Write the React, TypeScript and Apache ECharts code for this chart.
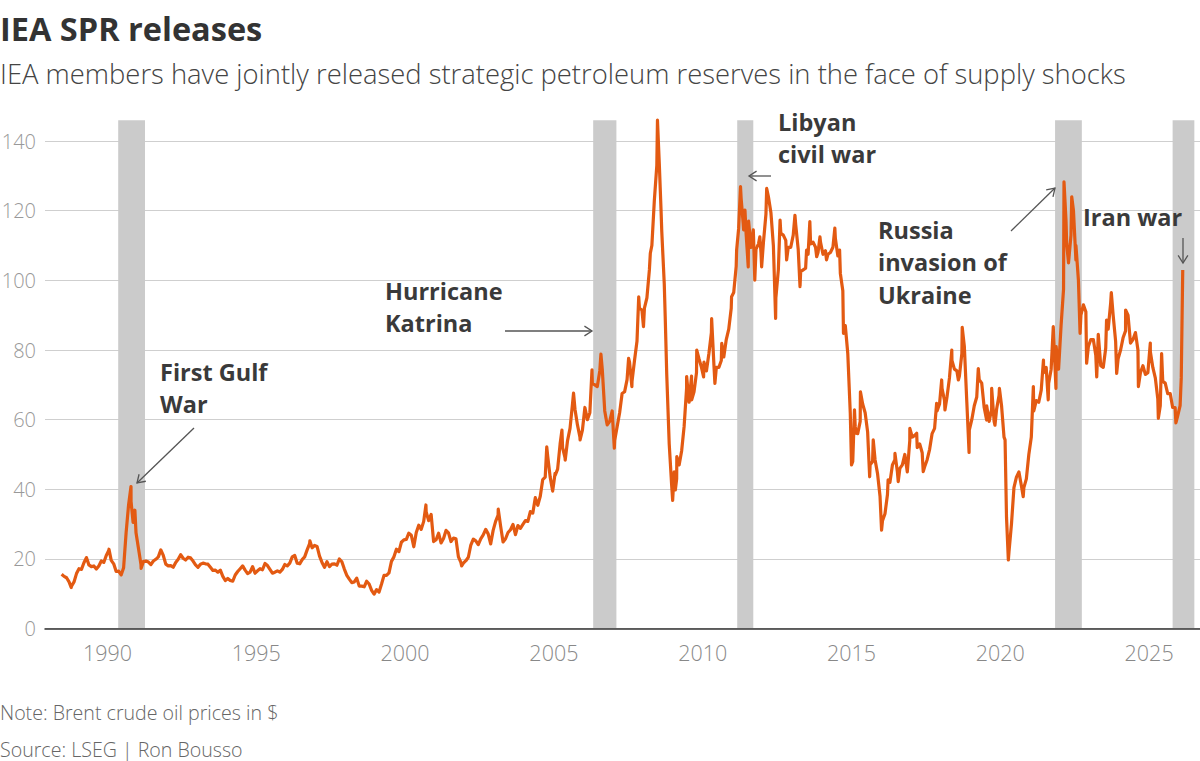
import React, { useEffect, useRef } from "react";
import * as echarts from "echarts";

// Monthly Brent values ($/bbl), first block starts June 1988
const p1988_1989 = [15.6, 15.0, 14.6, 13.4, 12.2, 13.4, 15.8,
  17.2, 17.0, 18.9, 20.4, 18.3, 17.8, 18.0, 17.1, 18.0, 19.4, 19.0, 21.0];
const p1990s = [
  22.4, 19.6, 18.6, 16.4, 16.5, 15.4, 17.5, 27.5, 35.5, 36.5, 32.5, 27.5,
  23.0, 18.4, 19.3, 19.4, 19.1, 18.4, 19.4, 19.9, 20.6, 22.6, 21.0, 18.5,
  18.0, 18.1, 17.6, 19.0, 19.9, 21.2, 20.2, 19.7, 20.5, 20.3, 19.4, 18.3,
  17.6, 18.5, 18.8, 18.6, 18.5, 17.6, 16.7, 16.8, 16.2, 16.8, 15.0, 13.8,
  14.4, 13.8, 13.6, 15.4, 16.4, 17.2, 18.0, 16.8, 15.8, 16.2, 17.8, 15.9,
  16.6, 17.2, 16.9, 18.7, 18.1, 17.0, 15.9, 16.2, 16.6, 16.2, 17.0, 18.4,
  18.0, 18.8, 20.6, 21.0, 18.8, 18.6, 19.8, 20.6, 22.6, 24.4, 23.2, 23.9,
  23.6, 20.8, 19.0, 17.6, 19.2, 17.8, 18.5, 18.6, 18.2, 20.0, 19.2, 17.1,
  15.3, 14.2, 13.2, 13.4, 14.5, 12.2, 12.2, 12.0, 13.6, 12.8, 11.0, 9.9,
  11.2, 10.5, 12.8, 15.3, 15.3, 16.0, 19.3, 20.6, 22.8, 22.1, 24.8, 25.5];
const p2000s = [
  25.6, 27.4, 26.8, 23.5, 27.6, 29.7, 28.5, 30.8, 33.5, 31.0, 32.8, 25.0,
  25.5, 27.4, 24.6, 25.9, 28.2, 27.5, 25.0, 26.0, 25.8, 20.6, 19.0, 18.8,
  19.5, 20.5, 24.0, 25.7, 25.2, 24.1, 25.8, 26.9, 28.5, 27.2, 24.3, 28.2,
  30.8, 32.6, 29.5, 24.9, 25.8, 27.6, 28.4, 29.9, 27.0, 29.6, 28.8, 29.9,
  31.0, 30.8, 33.6, 33.2, 37.6, 35.4, 38.0, 42.8, 43.5, 49.5, 43.5, 39.5,
  44.0, 45.8, 53.0, 52.0, 49.0, 54.0, 57.5, 64.5, 63.0, 58.5, 55.0, 57.0,
  63.5, 60.0, 62.0, 70.5, 70.0, 69.5, 74.0, 74.5, 62.5, 58.5, 59.5, 62.5,
  54.0, 58.0, 62.0, 67.5, 68.0, 71.5, 76.5, 71.0, 77.0, 82.5, 92.0, 91.5,
  92.0, 95.0, 103.0, 110.0, 123.0, 133.0, 133.5, 114.0, 99.0, 73.0, 53.0, 41.0,
  45.0, 43.0, 47.0, 51.0, 58.0, 69.0, 65.0, 72.5, 68.0, 73.5, 77.5, 75.0];
const p2010s = [
  76.5, 74.0, 79.0, 85.0, 76.0, 75.0, 75.0, 77.0, 78.0, 83.0, 86.0, 92.0,
  96.5, 104.0, 115.0, 123.5, 114.5, 113.5, 117.0, 109.5, 112.5, 109.0, 110.5, 108.0,
  111.0, 119.0, 124.0, 119.5, 110.0, 95.0, 103.0, 113.5, 113.0, 111.5, 109.5, 109.5,
  113.0, 116.0, 109.0, 102.5, 103.0, 103.5, 107.5, 110.5, 111.0, 109.5, 108.0, 111.0,
  107.5, 108.5, 107.5, 108.0, 109.5, 112.0, 107.0, 102.0, 97.0, 87.0, 79.0, 62.0,
  48.0, 58.0, 56.0, 59.5, 64.5, 62.0, 56.5, 47.0, 48.0, 48.5, 44.5, 38.0,
  31.0, 33.0, 38.5, 42.0, 47.0, 48.5, 45.0, 46.0, 47.0, 50.0, 45.0, 54.0,
  55.0, 55.5, 52.0, 53.0, 50.5, 46.5, 48.5, 51.5, 56.0, 57.5, 62.5, 64.5,
  69.0, 65.5, 66.5, 72.0, 77.0, 74.5, 74.0, 72.5, 79.0, 81.0, 65.0, 57.0,
  60.0, 64.0, 66.5, 71.5, 70.5, 63.5, 64.0, 59.5, 63.0, 59.5, 63.0, 67.0];
const p2020s = [
  64.0, 55.0, 32.0, 22.0, 30.0, 40.5, 43.5, 45.0, 41.0, 40.5, 43.0, 50.0,
  55.0, 62.5, 65.5, 65.0, 68.5, 73.5, 75.0, 70.5, 74.5, 84.0, 81.0, 74.5,
  87.0, 97.5, 117.0, 105.0, 113.0, 120.0, 110.0, 100.0, 90.0, 93.0, 91.0, 81.0,
  83.0, 83.0, 78.5, 84.5, 75.5, 75.0, 80.5, 86.0, 93.5, 90.0, 82.5, 77.5,
  80.0, 83.5, 85.5, 90.0, 82.0, 83.0, 85.0, 80.0, 73.5, 75.5, 73.0, 73.5,
  79.5, 75.0, 72.0, 66.0, 64.0, 71.0, 70.5, 67.5, 67.5, 63.5, 63.5, 61.0,
  64.0];

// Weekly highs and lows: [decimal year, price]
const weeklyExtremes: [number, number][] = [
  [1988.78, 11.8], [1990.05, 22.8], [1990.79, 40.8], [1990.86, 30.5], [1990.92, 34.0],
  [1991.13, 17.3], [1996.8, 25.2], [1998.98, 9.9], [2000.7, 35.5], [2001.9, 18.0],
  [2003.13, 34.3], [2004.76, 52.2], [2005.04, 44.6], [2005.27, 57.0], [2005.38, 48.4],
  [2005.66, 67.6], [2005.88, 54.2], [2006.28, 74.3], [2006.58, 78.8], [2006.78, 59.0],
  [2007.03, 51.8], [2007.51, 77.6], [2007.62, 69.5], [2007.85, 95.3], [2008.01, 86.7],
  [2008.24, 107.8], [2008.48, 146.0], [2008.6, 120.2], [2008.74, 89.6],
  [2008.99, 36.8], [2009.08, 39.8], [2009.13, 49.4], [2009.46, 72.4], [2009.63, 65.7],
  [2009.8, 80.0], [2010.03, 72.3], [2010.3, 89.0], [2010.41, 70.4], [2010.64, 81.9],
  [2010.97, 95.3], [2011.14, 108.7], [2011.27, 126.9], [2011.36, 116.4], [2011.42, 120.2],
  [2011.53, 103.9], [2011.7, 114.5], [2011.75, 100.1], [2011.92, 112.5], [2011.98, 103.9],
  [2012.15, 126.4], [2012.45, 89.1], [2012.6, 117.3], [2012.82, 105.9], [2013.1, 118.7],
  [2013.27, 98.2], [2013.49, 108.7], [2013.6, 116.9], [2013.83, 106.8], [2013.94, 112.5],
  [2014.16, 105.9], [2014.44, 115.0], [2014.6, 108.7], [2014.73, 84.8],
  [2015.0, 47.0], [2015.1, 62.8], [2015.16, 56.1], [2015.3, 68.0], [2015.61, 43.6],
  [2015.73, 54.2], [2016.01, 28.3], [2016.23, 42.7], [2016.46, 50.3], [2016.57, 42.2],
  [2016.96, 57.5], [2017.19, 56.1], [2017.41, 45.1], [2017.86, 64.7], [2018.03, 71.4],
  [2018.14, 62.8], [2018.37, 80.0], [2018.59, 71.4], [2018.72, 86.5], [2018.95, 50.6],
  [2019.26, 74.7], [2019.54, 59.9], [2019.71, 69.0], [2019.82, 58.4], [2019.97, 69.0],
  [2020.16, 54.2], [2020.27, 19.7], [2020.77, 37.9], [2021.11, 69.5], [2021.45, 77.1],
  [2021.61, 65.7], [2021.78, 86.7], [2021.87, 69.0], [2022.14, 128.3], [2022.23, 110.6],
  [2022.4, 124.0], [2022.54, 105.9], [2022.68, 84.8], [2022.9, 76.2], [2023.24, 72.3],
  [2023.57, 88.6], [2023.73, 96.5], [2023.91, 73.3], [2024.21, 91.5], [2024.64, 69.5],
  [2025.04, 82.0], [2025.31, 60.4], [2025.42, 79.0], [2025.9, 59.1],
  [2026.08, 72.0], [2026.13, 103.0]];

const releaseStarts = [1990.36, 2006.32, 2011.16, 2021.84, 2025.79];
const releaseEnds = [1991.26, 2007.1, 2011.7, 2022.74, 2026.52];

const xTickYears = [1990, 1995, 2000, 2005, 2010, 2015, 2020, 2025];
const yTicks = [0, 20, 40, 60, 80, 100, 120, 140];

const annotations = [
  { lines: ["First Gulf", "War"], x: 160, y: 372, arrow: [194, 428, 137, 483] },
  { lines: ["Hurricane", "Katrina"], x: 385, y: 291, arrow: [505, 331, 592, 331] },
  { lines: ["Libyan", "civil war"], x: 778, y: 122, arrow: [771, 176, 749, 176] },
  { lines: ["Russia", "invasion of", "Ukraine"], x: 878, y: 230, arrow: [1011, 231, 1055, 188] },
  { lines: ["Iran war"], x: 1083, y: 217, arrow: [1183, 238, 1183, 263] },
];

const FONT = "'Open Sans', 'Noto Sans', sans-serif";

function buildSeries(): [number, number][] {
  const blocks: [number, number, number[]][] = [
    [1988, 5, p1988_1989], [1990, 0, p1990s], [2000, 0, p2000s],
    [2010, 0, p2010s], [2020, 0, p2020s]];
  const pts: [number, number][] = [];
  blocks.forEach(([y0, m0, arr]) => {
    arr.forEach((v, i) => pts.push([y0 + (m0 + i + 0.5) / 12, v]));
  });
  weeklyExtremes.forEach((p) => pts.push([p[0], p[1]]));
  pts.sort((a, b) => a[0] - b[0]);
  return pts;
}

function arrowEls(a: number[]) {
  const [x0, y0, x1, y1] = a;
  const ang = Math.atan2(y1 - y0, x1 - x0);
  const L = 9, w = Math.PI / 5.5;
  const p1 = [x1 - L * Math.cos(ang - w), y1 - L * Math.sin(ang - w)];
  const p2 = [x1 - L * Math.cos(ang + w), y1 - L * Math.sin(ang + w)];
  return [
    { type: "line", z: 100, shape: { x1: x0, y1: y0, x2: x1, y2: y1 }, style: { stroke: "#555", lineWidth: 1.3 } },
    { type: "polyline", z: 100, shape: { points: [p1, [x1, y1], p2] }, style: { stroke: "#555", lineWidth: 1.3, fill: null } },
  ];
}

function textEl(text: string, x: number, y: number, size: number, weight: any, color: string) {
  return {
    type: "text", z: 100,
    style: {
      text, x, y, fill: color, fontSize: size, fontWeight: weight, fontFamily: FONT,
      align: "left", verticalAlign: "middle", textAlign: "left", textVerticalAlign: "middle",
    },
  };
}

export default function App() {
  const ref = useRef<HTMLDivElement>(null);
  useEffect(() => {
    if (!ref.current) return;
    const chart = echarts.init(ref.current, null, { renderer: "svg" });
    const graphics: any[] = [];
    graphics.push(textEl("IEA SPR releases", 0, 28, 32.5, 700, "#333"));
    graphics.push(textEl("IEA members have jointly released strategic petroleum reserves in the face of supply shocks", 0, 73, 27.4, 300, "#444"));
    graphics.push(textEl("Note: Brent crude oil prices in $", 0, 712, 19.6, 300, "#666"));
    graphics.push(textEl("Source: LSEG | Ron Bousso", 0, 749, 19.6, 300, "#666"));
    annotations.forEach((an) => {
      an.lines.forEach((ln, i) => graphics.push(textEl(ln, an.x, an.y + i * 32.3, 23.5, 700, "#3a3a3a")));
      arrowEls(an.arrow).forEach((e) => graphics.push(e));
    });

    chart.setOption({
      animation: false,
      backgroundColor: "#fff",
      grid: { left: 45, right: 0, top: 120.2, bottom: 132.4, containLabel: false, outerBoundsMode: "none" },
      xAxis: {
        type: "value", min: 1987.9, max: 2026.71, z: 3,
        splitLine: { show: false },
        axisTick: { show: false },
        axisLine: { show: true, lineStyle: { color: "#333", width: 1.5 } },
        axisLabel: {
          customValues: xTickYears, formatter: (v: number) => String(v),
          color: "#888", fontSize: 21.5, fontWeight: 300, margin: 13, fontFamily: FONT,
        },
      },
      yAxis: {
        type: "value", min: 0, max: 146, interval: 20,
        axisLine: { show: false }, axisTick: { show: false },
        splitLine: { show: true, showMaxLine: false, lineStyle: { color: "#cfcfcf", width: 1 } },
        axisLabel: {
          customValues: yTicks,
          color: "#999", fontSize: 20, fontWeight: 300, margin: 9, fontFamily: FONT,
        },
      },
      series: [{
        type: "line", data: buildSeries(), showSymbol: false, symbol: "none",
        lineStyle: { color: "#e35a12", width: 3.2, join: "round" },
        clip: false,
        markArea: {
          silent: true,
          itemStyle: { color: "#cbcbcb" },
          data: releaseStarts.map((s, i) => [{ xAxis: s }, { xAxis: releaseEnds[i] }]),
        },
      }],
      graphic: graphics,
    });
    return () => chart.dispose();
  }, []);
  return <div ref={ref} style={{ position: "absolute", left: 0, top: 0, width: 1200, height: 761, background: "#fff" }} />;
}
